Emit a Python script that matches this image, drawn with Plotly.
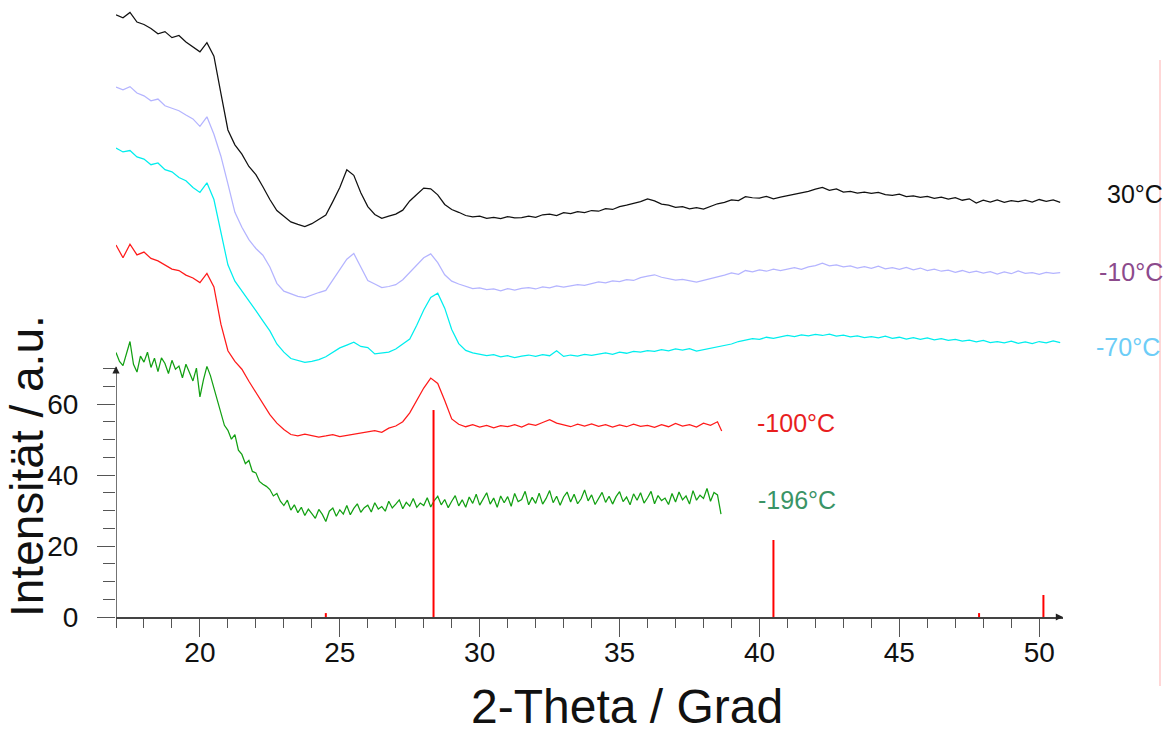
import plotly.graph_objects as go

# ---------------- data ----------------
THETA = [
    17.00, 17.25, 17.50, 17.75, 18.00, 18.25, 18.50, 18.75,
    19.00, 19.25, 19.50, 19.75, 20.00, 20.25, 20.50, 20.75,
    21.00, 21.25, 21.50, 21.75, 22.00, 22.25, 22.50, 22.75,
    23.00, 23.25, 23.50, 23.75, 24.00, 24.25, 24.50, 24.75,
    25.00, 25.25, 25.50, 25.75, 26.00, 26.25, 26.50, 26.75,
    27.00, 27.25, 27.50, 27.75, 28.00, 28.25, 28.50, 28.75,
    29.00, 29.25, 29.50, 29.75, 30.00, 30.25, 30.50, 30.75,
    31.00, 31.25, 31.50, 31.75, 32.00, 32.25, 32.50, 32.75,
    33.00, 33.25, 33.50, 33.75, 34.00, 34.25, 34.50, 34.75,
    35.00, 35.25, 35.50, 35.75, 36.00, 36.25, 36.50, 36.75,
    37.00, 37.25, 37.50, 37.75, 38.00, 38.25, 38.50, 38.75,
    39.00, 39.25, 39.50, 39.75, 40.00, 40.25, 40.50, 40.75,
    41.00, 41.25, 41.50, 41.75, 42.00, 42.25, 42.50, 42.75,
    43.00, 43.25, 43.50, 43.75, 44.00, 44.25, 44.50, 44.75,
    45.00, 45.25, 45.50, 45.75, 46.00, 46.25, 46.50, 46.75,
    47.00, 47.25, 47.50, 47.75, 48.00, 48.25, 48.50, 48.75,
    49.00, 49.25, 49.50, 49.75, 50.00, 50.25, 50.50, 50.75,
]

THETA_SHORT = [
    17.00, 17.25, 17.50, 17.75, 18.00, 18.25, 18.50, 18.75,
    19.00, 19.25, 19.50, 19.75, 20.00, 20.25, 20.50, 20.75,
    21.00, 21.25, 21.50, 21.75, 22.00, 22.25, 22.50, 22.75,
    23.00, 23.25, 23.50, 23.75, 24.00, 24.25, 24.50, 24.75,
    25.00, 25.25, 25.50, 25.75, 26.00, 26.25, 26.50, 26.75,
    27.00, 27.25, 27.50, 27.75, 28.00, 28.25, 28.50, 28.75,
    29.00, 29.25, 29.50, 29.75, 30.00, 30.25, 30.50, 30.75,
    31.00, 31.25, 31.50, 31.75, 32.00, 32.25, 32.50, 32.75,
    33.00, 33.25, 33.50, 33.75, 34.00, 34.25, 34.50, 34.75,
    35.00, 35.25, 35.50, 35.75, 36.00, 36.25, 36.50, 36.75,
    37.00, 37.25, 37.50, 37.75, 38.00, 38.25, 38.50, 38.65,
]

THETA_FINE = [
    17.000, 17.125, 17.250, 17.375, 17.500, 17.625, 17.750, 17.875,
    18.000, 18.125, 18.250, 18.375, 18.500, 18.625, 18.750, 18.875,
    19.000, 19.125, 19.250, 19.375, 19.500, 19.625, 19.750, 19.875,
    20.000, 20.125, 20.250, 20.375, 20.500, 20.625, 20.750, 20.875,
    21.000, 21.125, 21.250, 21.375, 21.500, 21.625, 21.750, 21.875,
    22.000, 22.125, 22.250, 22.375, 22.500, 22.625, 22.750, 22.875,
    23.000, 23.125, 23.250, 23.375, 23.500, 23.625, 23.750, 23.875,
    24.000, 24.125, 24.250, 24.375, 24.500, 24.625, 24.750, 24.875,
    25.000, 25.125, 25.250, 25.375, 25.500, 25.625, 25.750, 25.875,
    26.000, 26.125, 26.250, 26.375, 26.500, 26.625, 26.750, 26.875,
    27.000, 27.125, 27.250, 27.375, 27.500, 27.625, 27.750, 27.875,
    28.000, 28.125, 28.250, 28.375, 28.500, 28.625, 28.750, 28.875,
    29.000, 29.125, 29.250, 29.375, 29.500, 29.625, 29.750, 29.875,
    30.000, 30.125, 30.250, 30.375, 30.500, 30.625, 30.750, 30.875,
    31.000, 31.125, 31.250, 31.375, 31.500, 31.625, 31.750, 31.875,
    32.000, 32.125, 32.250, 32.375, 32.500, 32.625, 32.750, 32.875,
    33.000, 33.125, 33.250, 33.375, 33.500, 33.625, 33.750, 33.875,
    34.000, 34.125, 34.250, 34.375, 34.500, 34.625, 34.750, 34.875,
    35.000, 35.125, 35.250, 35.375, 35.500, 35.625, 35.750, 35.875,
    36.000, 36.125, 36.250, 36.375, 36.500, 36.625, 36.750, 36.875,
    37.000, 37.125, 37.250, 37.375, 37.500, 37.625, 37.750, 37.875,
    38.000, 38.125, 38.250, 38.375, 38.500, 38.625,
]

I_30 = [
    169.6, 168.8, 170.3, 167.6, 166.9, 165.8, 164.3, 164.9,
    163.2, 163.8, 162.0, 160.6, 159.2, 161.8, 158.0, 147.5,
    137.2, 133.0, 130.4, 126.9, 124.6, 121.2, 117.6, 114.5,
    112.8, 111.3, 110.6, 110.0, 110.8, 111.9, 113.2, 117.0,
    121.0, 126.0, 124.4, 119.5, 115.6, 113.4, 112.3, 112.9,
    113.5, 114.6, 117.2, 119.0, 120.8, 120.6, 118.9, 116.2,
    114.8, 114.0, 113.1, 112.7, 112.9, 112.3, 112.6, 112.2,
    112.8, 112.4, 112.5, 112.9, 112.6, 113.3, 113.5, 113.1,
    113.9, 113.6, 114.2, 113.9, 114.5, 114.3, 115.0, 114.8,
    115.6, 116.0, 116.5, 117.0, 117.8, 117.2, 116.3, 116.0,
    115.4, 115.6, 115.0, 115.3, 114.9, 115.7, 116.4, 116.8,
    117.5, 117.3, 118.4, 118.1, 118.0, 118.5, 117.8, 118.3,
    118.7, 119.0, 119.6, 119.9, 120.5, 121.0, 120.2, 120.6,
    119.7, 119.9, 119.4, 119.7, 119.3, 119.6, 119.0, 118.8,
    119.1, 118.4, 118.6, 118.2, 118.5, 117.9, 118.3, 117.7,
    118.1, 117.4, 117.8, 116.6, 117.4, 116.9, 117.5, 116.8,
    117.3, 117.0, 117.4, 116.9, 117.6, 117.1, 117.5, 116.8,
]

I_M10 = [
    149.3, 148.5, 149.4, 147.6, 146.8, 145.4, 145.9, 144.0,
    143.3, 142.6, 141.4, 140.3, 138.2, 140.9, 136.0, 129.8,
    122.0, 114.0, 109.8, 106.3, 103.8, 101.9, 98.6, 94.0,
    91.8, 91.0, 90.3, 90.0, 90.8, 91.4, 92.0, 94.9,
    97.8, 100.8, 102.4, 98.6, 94.8, 93.8, 92.8, 93.1,
    93.6, 95.0, 97.0, 99.3, 101.2, 102.3, 99.8, 96.4,
    94.6, 93.8, 93.1, 92.5, 92.7, 92.2, 92.4, 91.9,
    92.5, 92.1, 92.6, 92.8, 92.4, 93.0, 92.7, 93.3,
    92.9, 93.2, 93.6, 93.4, 94.0, 94.4, 94.1, 94.7,
    94.5, 95.0, 94.8, 95.6, 96.0, 96.4, 95.7, 95.3,
    94.9, 95.1, 94.6, 94.3, 94.8, 95.2, 95.8, 96.3,
    96.9, 96.5, 97.6, 97.2, 97.8, 97.4, 98.0, 97.6,
    98.1, 98.4, 97.9, 98.6, 99.0, 99.7, 98.9, 99.2,
    98.6, 98.9, 98.3, 98.7, 98.2, 98.8, 98.1, 98.4,
    97.9, 98.5, 97.8, 98.3, 97.6, 98.0, 97.4, 97.7,
    97.1, 97.6, 97.0, 97.4, 96.9, 97.3, 96.6, 97.2,
    96.7, 97.5, 96.8, 97.0, 96.5, 97.1, 96.8, 97.0,
]

I_M70 = [
    132.1, 131.0, 131.4, 129.6, 129.0, 127.4, 127.9, 126.0,
    125.4, 123.8, 122.9, 121.0, 119.6, 122.3, 117.6, 108.0,
    99.2, 94.6, 91.9, 88.9, 86.3, 83.4, 80.6, 76.9,
    74.6, 72.8, 72.3, 71.7, 72.0, 72.5, 73.3, 74.6,
    75.8, 76.6, 77.4, 76.2, 75.9, 74.1, 74.3, 74.6,
    75.5, 76.8, 78.3, 82.2, 86.5, 90.0, 91.2, 87.0,
    81.0, 77.0, 75.1, 74.4, 73.9, 73.6, 73.9, 73.3,
    73.6, 73.1, 73.5, 73.8, 73.4, 73.9, 73.6, 75.0,
    73.4, 73.8, 73.5, 74.0, 73.7, 74.1, 74.4, 74.0,
    74.6, 74.3, 74.8, 74.6, 75.0, 74.8, 75.3, 75.0,
    75.5, 75.2, 75.6, 74.9, 75.3, 75.7, 76.0, 76.5,
    76.9, 77.6, 78.0, 78.4, 78.2, 78.8, 78.5, 78.9,
    79.3, 79.0, 79.5, 79.2, 79.6, 79.3, 79.7, 79.1,
    79.4, 78.9, 79.2, 78.7, 79.0, 78.6, 79.1, 78.5,
    78.8, 78.3, 78.7, 78.2, 78.6, 78.1, 78.4, 77.9,
    78.2, 77.7, 78.0, 77.5, 77.9, 77.3, 77.6, 77.2,
    77.7, 77.1, 77.5, 77.0, 77.6, 77.2, 77.8, 77.3,
]

I_M100 = [
    104.8, 101.2, 105.0, 102.0, 102.8, 101.0, 100.3, 99.2,
    98.0, 97.6, 96.3, 95.5, 94.2, 96.8, 93.0, 82.5,
    75.0, 72.0, 69.8, 66.4, 63.2, 60.0, 57.0, 54.6,
    52.8, 51.4, 51.0, 51.5, 51.2, 50.7, 51.0, 51.4,
    50.8, 51.1, 51.5, 51.9, 52.2, 52.5, 52.0, 53.2,
    53.8, 55.0, 57.5, 61.0, 64.5, 67.3, 65.8, 61.0,
    55.8, 54.3, 53.6, 54.2, 53.5, 54.0, 53.3, 53.9,
    53.6, 54.2, 53.5, 54.4, 54.0, 54.8, 55.6, 54.6,
    54.1, 53.6, 54.3, 53.8, 54.4, 53.7, 54.2, 53.5,
    54.1, 53.6, 54.3, 53.7, 54.0, 53.4, 54.2, 53.6,
    54.5, 53.8, 54.2, 53.5, 54.6, 54.0, 55.0, 52.4,
]

I_M196 = [
    74.5, 72.0, 70.8, 73.9, 77.6, 71.2, 69.0, 73.5,
    71.8, 74.6, 70.3, 72.9, 69.1, 73.0, 71.4, 68.6,
    72.3, 69.8, 70.7, 67.4, 71.2, 68.9, 66.5, 70.1,
    62.0, 66.8, 70.6, 68.0, 64.4, 61.0, 57.8, 54.0,
    52.6, 50.1, 51.4, 47.0, 45.8, 43.2, 44.1, 41.0,
    40.6, 38.2, 37.4, 36.8, 35.9, 34.1, 34.8, 32.6,
    31.4, 32.9, 30.1, 31.6, 29.4, 30.9, 28.6, 30.4,
    29.1, 27.8, 30.3, 28.9, 26.9, 29.8, 30.7, 28.4,
    30.2, 29.0, 31.4, 28.8, 30.6, 31.9, 29.5, 30.8,
    31.5, 29.6, 32.2, 30.4, 31.1, 29.8, 32.6, 30.7,
    31.8, 33.0, 30.5, 32.3, 31.2, 33.4, 30.9, 32.1,
    31.4, 33.6, 31.0, 32.8, 34.0, 31.6, 33.1, 30.8,
    32.6, 34.2, 31.3, 33.0, 30.9, 33.8, 32.0, 34.6,
    31.5, 33.2, 35.0, 31.8, 33.5, 30.9, 34.1, 32.2,
    33.9, 31.2, 34.8, 32.5, 33.1, 35.4, 31.6, 33.7,
    32.0, 34.9, 31.8, 33.4, 35.6, 32.2, 34.0, 31.5,
    33.8, 35.2, 32.4, 34.6, 31.9, 33.3, 35.8, 32.7,
    34.4, 31.7, 33.6, 35.1, 32.3, 34.0, 31.8, 33.9,
    35.3, 32.5, 33.8, 31.6, 34.7, 32.9, 35.0, 32.1,
    33.6, 35.4, 31.9, 34.2, 32.8, 33.5, 31.7, 34.8,
    32.4, 35.2, 33.0, 34.1, 31.8, 35.6, 32.9, 34.3,
    33.4, 36.2, 32.6, 35.1, 34.4, 29.0,
]

STICK_POS = [24.50, 28.35, 40.50, 47.85, 50.15]
STICK_INT = [1.1, 58.3, 21.7, 1.1, 6.2]

LABELS = ["30°C", "-10°C", "-70°C", "-100°C", "-196°C"]
LABEL_COLORS = ["#111111", "#8C4A8C", "#6DCDF7", "#E81E1E", "#3A9466"]
LINE_COLORS = ["#111111", "#B4B4FF", "#00EEEE", "#FF1A1A", "#12A012"]

X_TICKS = [20, 25, 30, 35, 40, 45, 50]
X_MINOR = [17, 18, 19, 21, 22, 23, 24, 26, 27, 28, 29, 31, 32, 33, 34,
           36, 37, 38, 39, 41, 42, 43, 44, 46, 47, 48, 49]
Y_TICKS = [0, 20, 40, 60]
Y_MINOR = [5, 10, 15, 25, 30, 35, 45, 50, 55, 65, 70]

# ---------------- figure ----------------
W, H = 1167, 737
ML, MR, MT, MB = 116, 104, 0, 120
PW, PH = W - ML - MR, H - MT - MB

fig = go.Figure()

series = [
    (THETA, I_30), (THETA, I_M10), (THETA, I_M70),
    (THETA_SHORT, I_M100), (THETA_FINE, I_M196),
]
order = [4, 3, 2, 1, 0]
for k in order:
    xs, ys = series[k]
    fig.add_trace(go.Scatter(x=xs, y=ys, mode="lines",
                             line=dict(color=LINE_COLORS[k], width=1.25),
                             name=LABELS[k], showlegend=False))

sx, sy = [], []
for p, v in zip(STICK_POS, STICK_INT):
    sx += [p, p, None]
    sy += [0, v, None]
fig.add_trace(go.Scatter(x=sx, y=sy, mode="lines",
                         line=dict(color="#FF0000", width=2),
                         showlegend=False, hoverinfo="skip"))

FONT = "Liberation Sans, Arial, sans-serif"

def px2paper(px, py):
    return (px - ML) / PW, (H - MB - py) / PH

label_pos = [(1105, 194), (1097, 272), (1094, 347), (755, 423), (756, 500)]
annotations = []
for (lx, ly), t, c in zip(label_pos, LABELS, LABEL_COLORS):
    ax_, ay_ = px2paper(lx, ly)
    annotations.append(dict(x=ax_, y=ay_, xref="paper", yref="paper",
                            text=t, showarrow=False, xanchor="left",
                            yanchor="middle",
                            font=dict(family=FONT, size=25, color=c)))

tx, ty = px2paper(627, 706)
annotations.append(dict(x=tx, y=ty, xref="paper", yref="paper",
                        text="2-Theta / Grad", showarrow=False,
                        xanchor="center", yanchor="middle",
                        font=dict(family=FONT, size=48, color="#111111")))
yx, yy = px2paper(27, 466)
annotations.append(dict(x=yx, y=yy, xref="paper", yref="paper",
                        text="Intensität / a.u.", showarrow=False,
                        textangle=-90, xanchor="center", yanchor="middle",
                        font=dict(family=FONT, size=46, color="#111111")))

# axis arrows
annotations.append(dict(x=50.85, y=0, xref="x", yref="y", ax=-6, ay=0,
                        text="", showarrow=True, arrowhead=2, arrowsize=1.2,
                        arrowwidth=1.2, arrowcolor="#222222"))
annotations.append(dict(x=17, y=70.6, xref="x", yref="y", ax=0, ay=6,
                        text="", showarrow=True, arrowhead=2, arrowsize=1.2,
                        arrowwidth=1.2, arrowcolor="#222222"))

shapes = [
    dict(type="line", xref="x", yref="y", x0=17, x1=17, y0=0, y1=70.4,
         line=dict(color="#444444", width=1.5)),
]
p1x, p1y = px2paper(1160, 60)
p2x, p2y = px2paper(1160, 686)
shapes.append(dict(type="line", xref="paper", yref="paper",
                   x0=p1x, x1=p2x, y0=p1y, y1=p2y,
                   line=dict(color="#FFCACA", width=1.5)))

fig.update_layout(
    width=W, height=H,
    margin=dict(l=ML, r=MR, t=MT, b=MB, pad=0),
    paper_bgcolor="white", plot_bgcolor="white",
    showlegend=False,
    annotations=annotations, shapes=shapes,
    xaxis=dict(range=[17, 50.85], showgrid=False, zeroline=False,
               showline=True, linecolor="#444444", linewidth=1.5,
               ticks="outside", ticklen=18, tickwidth=1.2,
               tickcolor="#555555", tickvals=X_TICKS,
               ticklabelstandoff=-8,
               tickfont=dict(family=FONT, size=28, color="#111111"),
               minor=dict(tickvals=X_MINOR, ticks="outside", ticklen=9,
                          tickwidth=1.2, tickcolor="#555555")),
    yaxis=dict(range=[0, PH / 3.55], showgrid=False, zeroline=False,
               showline=False, ticks="outside", ticklen=18, tickwidth=1.2,
               tickcolor="#555555", tickvals=Y_TICKS,
               ticklabelstandoff=13,
               tickfont=dict(family=FONT, size=28, color="#111111"),
               minor=dict(tickvals=Y_MINOR, ticks="outside", ticklen=12,
                          tickwidth=1.2, tickcolor="#555555")),
)

fig.write_html("out.html")
